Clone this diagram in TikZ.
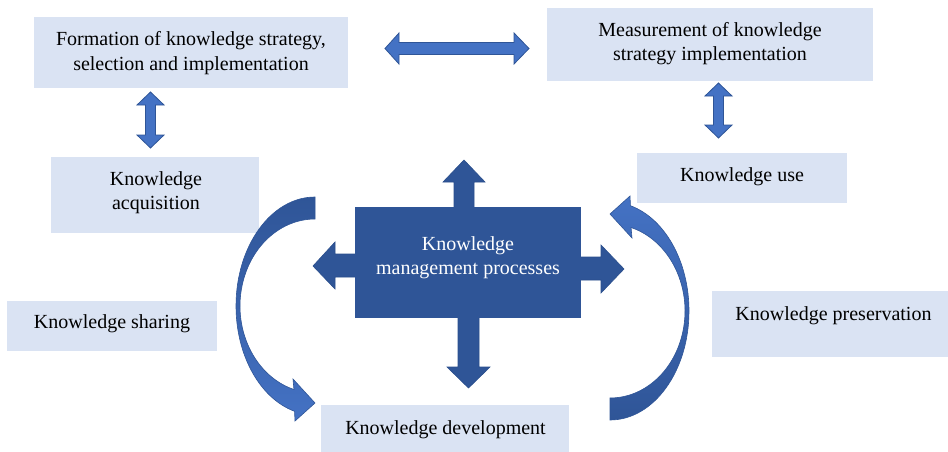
\documentclass[tikz,border=0pt]{standalone}
\usepackage{fontspec}
\setmainfont{Liberation Serif}
\definecolor{boxfill}{HTML}{DAE3F3}
\definecolor{kmdark}{HTML}{2F5597}
\definecolor{kmlight}{HTML}{4472C4}
\definecolor{kmedge}{HTML}{2A4E8C}
\begin{document}
\begin{tikzpicture}[x=1pt,y=1pt,
  lbox/.style={fill=boxfill, draw=none, inner sep=0pt},
  txt/.style={inner sep=0pt, align=center, font=\fontsize{20}{24.5}\selectfont, text=black},
  darkarrow/.style={fill=kmdark, draw=kmedge, line width=0.6pt},
  lightarrow/.style={fill=kmlight, draw=kmdark, line width=0.8pt},
  curvedarrow/.style={draw=kmdark, line width=0.6pt}]
\useasboundingbox (0,0) rectangle (948,-452);
\fill[white] (0,0) rectangle (948,-452);

% light boxes
\node[lbox, minimum width=314, minimum height=71] (form) at (191,-52.5) {};
\node[lbox, minimum width=326, minimum height=73.5] (meas) at (710,-44.75) {};
\node[lbox, minimum width=208, minimum height=76] (acq) at (155,-195) {};
\node[lbox, minimum width=210, minimum height=50] (share) at (112,-326) {};
\node[lbox, minimum width=210, minimum height=50] (use) at (742,-178) {};
\node[lbox, minimum width=236, minimum height=66] (pres) at (830,-324) {};
\node[lbox, minimum width=248, minimum height=47] (dev) at (445,-428.5) {};

% double arrows
\path[lightarrow] (385,-48.5) -- (399,-33) -- (399,-42.5) -- (514,-42.5) -- (514,-33) -- (529,-48.5)
  -- (514,-64) -- (514,-54.5) -- (399,-54.5) -- (399,-64) -- cycle;
\path[lightarrow] (150.5,-92) -- (164,-105) -- (155.5,-105) -- (155.5,-135) -- (164,-135) -- (150.5,-148)
  -- (137,-135) -- (145.5,-135) -- (145.5,-105) -- (137,-105) -- cycle;
\path[lightarrow] (718.5,-83) -- (732,-96) -- (723.5,-96) -- (723.5,-125) -- (732,-125) -- (718.5,-138)
  -- (705,-125) -- (713.5,-125) -- (713.5,-96) -- (705,-96) -- cycle;

% arrows out of the central box
\path[darkarrow] (454,-215) -- (454,-182) -- (443,-182) -- (464,-160) -- (485,-182) -- (474,-182) -- (474,-215) -- cycle;
\path[darkarrow] (458,-310) -- (458,-367) -- (447,-367) -- (468.5,-388) -- (490,-367) -- (479,-367) -- (479,-310) -- cycle;
\path[darkarrow] (363,-254) -- (335,-254) -- (335,-242) -- (313,-266) -- (335,-289) -- (335,-277) -- (363,-277) -- cycle;
\path[darkarrow] (573,-257) -- (601,-257) -- (601,-245) -- (624,-269) -- (601,-293) -- (601,-280) -- (573,-280) -- cycle;

% central box
\node[fill=kmdark, draw=none, inner sep=0pt, minimum width=226, minimum height=111] (kmp) at (468,-262.5) {};

% curved arrows
\begin{scope}[shift={(315,-306)}]
\path[curvedarrow, top color=kmdark, bottom color=kmlight]
  (0,109) arc[start angle=90, end angle=255, x radius=79, y radius=109]
  -- (-20,-115) -- (0,-97) -- (-22,-73) -- (-21.05,-83.5)
  arc[start angle=253.7, end angle=90, x radius=75, y radius=87] -- cycle;
\end{scope}
\begin{scope}[shift={(610,-311)}]
\path[curvedarrow, top color=kmlight, bottom color=kmdark]
  (0,-109) arc[start angle=270, end angle=435, x radius=79, y radius=109]
  -- (20,115) -- (0,97) -- (22,73) -- (21.05,83.5)
  arc[start angle=433.7, end angle=270, x radius=75, y radius=87] -- cycle;
\end{scope}

% texts
\node[txt] (tform) at (191,-53.3) {Formation of knowledge strategy,\\selection and implementation};
\node[txt] (tmeas) at (710,-43.8) {Measurement of knowledge\\strategy implementation};
\node[txt] (tacq) at (156,-192.8) {Knowledge\\acquisition};
\node[txt] (tshare) at (112,-323.3) {Knowledge sharing};
\node[txt] (tuse) at (742,-176.3) {Knowledge use};
\node[txt] (tpres) at (833.5,-315.3) {Knowledge preservation};
\node[txt] (tdev) at (445.5,-429.3) {Knowledge development};
\node[txt, text=white] (tkmp) at (468,-257.8) {Knowledge\\management processes};
\end{tikzpicture}
\end{document}
